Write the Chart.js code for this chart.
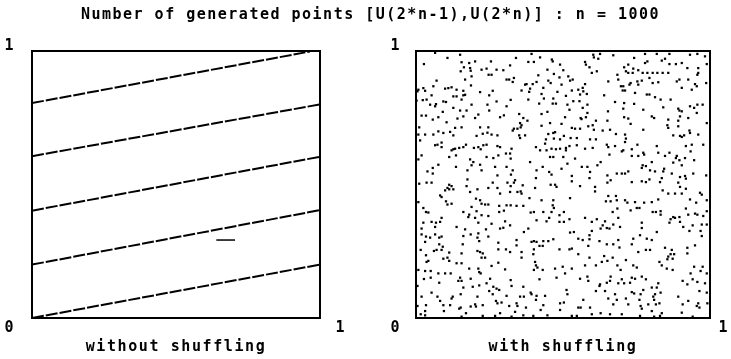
<!DOCTYPE html>
<html lang="en">
<head>
<meta charset="utf-8">
<title>Number of generated points</title>
<script src="https://cdn.jsdelivr.net/npm/chart.js@4/dist/chart.umd.min.js"></script>
<style>
  html, body { margin: 0; padding: 0; background: #fff; }
  #stage { position: relative; width: 731px; height: 359px; overflow: hidden; background: #fff; }
  #stage canvas { position: absolute; top: 0; }
  #heading { position: absolute; left: 5px; top: 5px; width: 731px; line-height: 16px; text-align: center;
             font: bold 15px "DejaVu Sans Mono", monospace; letter-spacing: 1.5px; color: #000; white-space: nowrap; }
</style>
</head>
<body>
<div id="stage">
  <canvas id="plainCanvas" width="366" height="359" style="left:0;width:366px;height:359px"></canvas>
  <canvas id="shuffledCanvas" width="365" height="359" style="left:366px;width:365px;height:359px"></canvas>
  <div id="heading"></div>
</div>
<script>
const chartTitle = 'Number of generated points [U(2*n-1),U(2*n)] : n = 1000';
const panelTitles = ['without shuffling', 'with shuffling'];
const axisTicks = ['0', '1'];

// Without shuffling the pairs fall on five parallel lanes (start at x = 0)
const laneStartY = [0.000, 0.200, 0.402, 0.606, 0.805];
const laneEndX   = [1.000, 1.000, 1.000, 1.000, 0.965];
const laneEndY   = [0.200, 0.404, 0.604, 0.800, 0.998];
// short isolated run of points between the two lowest lanes
const strayX = [0.640, 0.705];
const strayY = [0.292, 0.292];

// With shuffling: [U(2n-1), U(2n)] pairs
const shuffledPairs = [
  [0.065,0.993],[0.150,0.986],[0.107,0.974],[0.027,0.951],[0.155,0.958],[0.181,0.955],[0.201,0.961],[0.255,0.961],
  [0.184,0.936],[0.163,0.939],[0.152,0.924],[0.186,0.926],[0.223,0.930],[0.240,0.934],[0.274,0.930],[0.297,0.928],
  [0.320,0.946],[0.247,0.911],[0.257,0.911],[0.189,0.905],[0.167,0.893],[0.308,0.893],[0.317,0.893],[0.070,0.889],
  [0.187,0.871],[0.059,0.868],[0.121,0.864],[0.099,0.859],[0.110,0.861],[0.025,0.861],[0.138,0.855],[0.161,0.851],
  [0.261,0.851],[0.031,0.851],[0.008,0.855],[0.005,0.849],[0.218,0.846],[0.167,0.836],[0.161,0.834],[0.127,0.830],
  [0.138,0.830],[0.053,0.834],[0.249,0.834],[0.093,0.811],[0.102,0.809],[0.036,0.818],[0.023,0.816],[0.002,0.814],
  [0.155,0.818],[0.274,0.811],[0.065,0.793],[0.127,0.787],[0.308,0.793],[0.243,0.799],[0.189,0.799],[0.068,0.801],
  [0.048,0.799],[0.172,0.777],[0.150,0.777],[0.249,0.777],[0.091,0.772],[0.034,0.758],[0.019,0.758],[0.076,0.752],
  [0.286,0.752],[0.299,0.759],[0.212,0.762],[0.161,0.755],[0.201,0.749],[0.057,0.743],[0.141,0.747],[0.104,0.733],
  [0.218,0.714],[0.155,0.714],[0.133,0.712],[0.246,0.714],[0.076,0.699],[0.093,0.693],[0.011,0.714],[0.031,0.687],
  [0.059,0.687],[0.116,0.697],[0.127,0.684],[0.008,0.687],
  [0.393,0.989],[0.603,0.986],[0.605,0.976],[0.626,0.989],[0.340,0.974],[0.422,0.976],[0.462,0.968],[0.465,0.961],
  [0.382,0.959],[0.401,0.959],[0.620,0.971],[0.575,0.959],[0.490,0.949],[0.578,0.949],[0.590,0.939],[0.501,0.928],
  [0.447,0.930],[0.615,0.924],[0.598,0.918],[0.416,0.909],[0.469,0.914],[0.518,0.905],[0.488,0.901],[0.533,0.893],
  [0.524,0.889],[0.333,0.899],[0.329,0.884],[0.450,0.889],[0.458,0.880],[0.376,0.876],[0.371,0.874],[0.397,0.876],
  [0.410,0.884],[0.654,0.886],[0.575,0.876],[0.495,0.874],[0.359,0.852],[0.388,0.859],[0.385,0.847],[0.433,0.862],
  [0.481,0.847],[0.530,0.852],[0.552,0.855],[0.567,0.862],[0.569,0.849],[0.322,0.817],[0.427,0.839],[0.558,0.837],
  [0.581,0.839],[0.510,0.832],[0.640,0.834],[0.435,0.822],[0.467,0.822],[0.382,0.818],[0.535,0.812],[0.556,0.812],
  [0.465,0.803],[0.476,0.803],[0.419,0.803],[0.515,0.799],[0.522,0.780],[0.567,0.787],[0.583,0.799],[0.653,0.774],
  [0.351,0.764],[0.427,0.764],[0.583,0.768],[0.578,0.752],[0.560,0.749],[0.563,0.745],[0.507,0.752],[0.365,0.749],
  [0.379,0.739],[0.447,0.772],[0.612,0.739],[0.651,0.739],[0.601,0.722],[0.586,0.718],[0.354,0.730],[0.359,0.722],
  [0.356,0.714],[0.333,0.709],[0.329,0.702],[0.345,0.709],[0.427,0.720],[0.456,0.730],[0.495,0.727],[0.530,0.712],
  [0.541,0.709],[0.558,0.709],[0.635,0.702],[0.660,0.705],[0.605,0.705],[0.467,0.693],[0.473,0.696],[0.450,0.689],
  [0.351,0.684],[0.371,0.684],
  [0.671,0.984],[0.742,0.974],[0.779,0.989],[0.819,0.989],[0.862,0.989],[0.932,0.986],[0.957,0.989],[0.983,0.980],
  [0.722,0.949],[0.708,0.939],[0.739,0.934],[0.779,0.955],[0.787,0.961],[0.836,0.964],[0.847,0.971],[0.862,0.951],
  [0.884,0.951],[0.904,0.955],[0.923,0.936],[0.960,0.936],[0.989,0.951],[0.714,0.924],[0.722,0.918],[0.737,0.918],
  [0.756,0.928],[0.771,0.918],[0.787,0.918],[0.805,0.918],[0.821,0.918],[0.839,0.918],[0.858,0.918],[0.960,0.918],
  [0.957,0.911],[0.685,0.911],[0.688,0.893],[0.794,0.899],[0.753,0.886],[0.768,0.889],[0.805,0.880],[0.824,0.883],
  [0.896,0.893],[0.887,0.886],[0.926,0.893],[0.949,0.876],[0.955,0.868],[0.697,0.868],[0.705,0.868],[0.726,0.874],
  [0.730,0.880],[0.756,0.874],[0.987,0.880],[0.703,0.852],[0.711,0.852],[0.904,0.862],[0.938,0.855],[0.745,0.843],
  [0.785,0.837],[0.794,0.837],[0.813,0.827],[0.832,0.818],[0.866,0.818],[0.677,0.809],[0.708,0.805],[0.705,0.784],
  [0.742,0.802],[0.932,0.793],[0.957,0.799],[0.975,0.799],[0.946,0.787],[0.892,0.784],[0.896,0.777],[0.904,0.774],
  [0.773,0.780],[0.841,0.789],[0.708,0.752],[0.722,0.747],[0.802,0.755],[0.810,0.749],[0.898,0.755],[0.858,0.743],
  [0.892,0.739],[0.926,0.749],[0.955,0.768],[0.730,0.727],[0.773,0.705],[0.855,0.722],[0.858,0.712],[0.892,0.718],
  [0.930,0.702],[0.932,0.693],[0.960,0.687],[0.912,0.684],[0.875,0.684],[0.680,0.689],[0.711,0.687],[0.989,0.730],
  [0.206,0.682],[0.227,0.690],[0.243,0.694],[0.257,0.687],[0.277,0.684],[0.014,0.665],[0.065,0.647],[0.073,0.649],
  [0.087,0.657],[0.087,0.640],[0.127,0.632],[0.133,0.634],[0.121,0.628],[0.147,0.637],[0.161,0.640],[0.170,0.649],
  [0.197,0.637],[0.212,0.640],[0.220,0.632],[0.229,0.647],[0.240,0.649],[0.277,0.644],[0.286,0.640],[0.113,0.603],
  [0.136,0.609],[0.306,0.616],[0.320,0.616],[0.019,0.609],[0.008,0.594],[0.184,0.594],[0.195,0.584],[0.240,0.603],
  [0.263,0.599],[0.280,0.609],[0.218,0.574],[0.223,0.553],[0.189,0.572],[0.269,0.566],[0.308,0.566],[0.057,0.562],
  [0.057,0.541],[0.039,0.549],[0.076,0.574],[0.136,0.566],[0.175,0.553],[0.277,0.534],[0.036,0.507],[0.053,0.507],
  [0.011,0.503],[0.113,0.499],[0.121,0.494],[0.107,0.487],[0.113,0.482],[0.099,0.478],[0.127,0.482],[0.175,0.519],
  [0.261,0.507],[0.311,0.507],[0.322,0.494],[0.172,0.494],[0.184,0.472],[0.209,0.482],[0.246,0.487],[0.277,0.487],
  [0.286,0.466],[0.320,0.472],[0.008,0.434],[0.082,0.459],[0.087,0.453],[0.102,0.437],[0.107,0.425],[0.121,0.428],
  [0.025,0.412],[0.034,0.397],[0.042,0.395],[0.204,0.447],[0.218,0.441],[0.223,0.428],[0.235,0.425],[0.246,0.425],
  [0.283,0.420],[0.308,0.422],[0.161,0.397],[0.181,0.387],[0.189,0.416],[0.206,0.400],[0.283,0.397],[0.299,0.402],
  [0.025,0.357],[0.053,0.360],[0.068,0.357],[0.065,0.341],[0.087,0.375],[0.082,0.360],[0.138,0.341],[0.178,0.378],
  [0.201,0.375],[0.212,0.357],[0.223,0.385],[0.246,0.382],[0.257,0.353],[0.303,0.362],[0.320,0.347],[0.286,0.335],
  [0.019,0.335],
  [0.354,0.674],[0.503,0.682],[0.469,0.672],[0.442,0.669],[0.439,0.653],[0.490,0.669],[0.526,0.674],[0.547,0.674],
  [0.592,0.669],[0.612,0.669],[0.649,0.649],[0.654,0.640],[0.325,0.634],[0.408,0.640],[0.422,0.628],[0.444,0.628],
  [0.461,0.634],[0.476,0.632],[0.490,0.634],[0.510,0.637],[0.510,0.628],[0.522,0.644],[0.547,0.647],[0.575,0.634],
  [0.601,0.637],[0.658,0.612],[0.456,0.603],[0.467,0.603],[0.501,0.603],[0.541,0.597],[0.322,0.597],[0.388,0.584],
  [0.515,0.578],[0.431,0.566],[0.495,0.559],[0.564,0.566],[0.583,0.566],[0.617,0.572],[0.628,0.584],[0.329,0.553],
  [0.410,0.553],[0.453,0.547],[0.461,0.537],[0.592,0.547],[0.323,0.537],[0.408,0.524],[0.530,0.532],[0.530,0.512],
  [0.651,0.534],[0.337,0.516],[0.333,0.507],[0.590,0.524],[0.458,0.499],[0.473,0.499],[0.478,0.491],[0.558,0.494],
  [0.609,0.491],[0.651,0.507],[0.363,0.497],[0.345,0.472],[0.356,0.474],[0.359,0.466],[0.405,0.487],[0.386,0.449],
  [0.427,0.441],[0.467,0.441],[0.524,0.449],[0.609,0.474],[0.654,0.457],[0.646,0.437],[0.322,0.422],[0.342,0.420],
  [0.365,0.420],[0.465,0.422],[0.469,0.412],[0.401,0.397],[0.390,0.395],[0.433,0.397],[0.461,0.397],[0.488,0.385],
  [0.503,0.397],[0.410,0.366],[0.444,0.362],[0.453,0.375],[0.488,0.360],[0.503,0.360],[0.522,0.370],[0.575,0.375],
  [0.598,0.360],[0.615,0.370],[0.643,0.362],[0.635,0.347],[0.628,0.335],[0.649,0.337],[0.382,0.335],
  [0.714,0.672],[0.711,0.659],[0.898,0.682],[0.904,0.678],[0.677,0.644],[0.705,0.628],[0.700,0.624],[0.734,0.632],
  [0.753,0.649],[0.819,0.644],[0.918,0.644],[0.938,0.649],[0.977,0.649],[0.934,0.624],[0.734,0.607],[0.756,0.607],
  [0.773,0.619],[0.776,0.612],[0.824,0.619],[0.847,0.607],[0.862,0.619],[0.887,0.607],[0.884,0.599],[0.896,0.591],
  [0.915,0.599],[0.946,0.591],[0.875,0.582],[0.904,0.572],[0.802,0.584],[0.771,0.572],[0.768,0.562],[0.782,0.569],
  [0.683,0.541],[0.700,0.541],[0.711,0.541],[0.722,0.549],[0.813,0.549],[0.796,0.553],[0.844,0.559],[0.841,0.549],
  [0.870,0.541],[0.898,0.528],[0.915,0.532],[0.918,0.522],[0.943,0.541],[0.987,0.534],[0.662,0.516],[0.734,0.509],
  [0.768,0.512],[0.782,0.509],[0.794,0.519],[0.830,0.509],[0.836,0.524],[0.892,0.507],[0.898,0.491],[0.918,0.484],
  [0.839,0.478],[0.858,0.466],[0.881,0.466],[0.904,0.466],[0.966,0.469],[0.972,0.462],[0.680,0.457],[0.683,0.441],
  [0.662,0.437],[0.711,0.441],[0.719,0.432],[0.745,0.434],[0.776,0.432],[0.802,0.434],[0.824,0.444],[0.932,0.444],
  [0.953,0.432],[0.989,0.441],[0.685,0.410],[0.669,0.397],[0.730,0.403],[0.751,0.412],[0.760,0.412],[0.805,0.397],
  [0.816,0.397],[0.832,0.400],[0.832,0.387],[0.875,0.378],[0.881,0.375],[0.866,0.370],[0.896,0.378],[0.918,0.410],
  [0.926,0.387],[0.949,0.391],[0.957,0.387],[0.977,0.382],[0.989,0.400],[0.688,0.375],[0.671,0.350],[0.694,0.341],
  [0.768,0.357],[0.768,0.337],[0.862,0.357],[0.898,0.360],[0.909,0.341],[0.941,0.347],[0.972,0.350],[0.989,0.350],
  [0.167,0.332],[0.238,0.332],[0.297,0.338],[0.019,0.313],[0.034,0.305],[0.048,0.301],[0.065,0.313],[0.079,0.301],
  [0.087,0.305],[0.161,0.307],[0.186,0.313],[0.212,0.317],[0.209,0.301],[0.215,0.288],[0.246,0.305],[0.031,0.285],
  [0.079,0.276],[0.091,0.267],[0.087,0.255],[0.070,0.255],[0.061,0.251],[0.113,0.245],[0.159,0.276],[0.280,0.282],
  [0.016,0.255],[0.209,0.251],[0.218,0.247],[0.227,0.242],[0.280,0.257],[0.306,0.257],[0.320,0.247],[0.034,0.235],
  [0.155,0.242],[0.042,0.214],[0.036,0.210],[0.093,0.222],[0.107,0.226],[0.113,0.214],[0.138,0.205],[0.155,0.205],
  [0.223,0.226],[0.235,0.226],[0.280,0.207],[0.008,0.180],[0.031,0.176],[0.050,0.176],[0.076,0.167],[0.099,0.167],
  [0.118,0.167],[0.181,0.185],[0.212,0.185],[0.215,0.172],[0.220,0.167],[0.257,0.195],[0.303,0.182],[0.027,0.146],
  [0.050,0.151],[0.150,0.151],[0.155,0.139],[0.144,0.139],[0.186,0.147],[0.252,0.147],[0.005,0.120],[0.079,0.132],
  [0.161,0.114],[0.193,0.117],[0.215,0.122],[0.240,0.130],[0.263,0.117],[0.274,0.110],[0.283,0.105],[0.322,0.142],
  [0.019,0.080],[0.053,0.095],[0.073,0.080],[0.082,0.064],[0.121,0.073],[0.125,0.080],[0.152,0.089],[0.209,0.080],
  [0.249,0.101],[0.261,0.089],[0.308,0.083],[0.005,0.045],[0.034,0.048],[0.093,0.048],[0.116,0.048],[0.147,0.035],
  [0.152,0.039],[0.186,0.043],[0.201,0.051],[0.204,0.043],[0.227,0.048],[0.277,0.055],[0.272,0.064],[0.291,0.058],
  [0.317,0.045],[0.031,0.026],[0.016,0.014],[0.095,0.026],[0.170,0.018],[0.286,0.018],[0.269,0.008],[0.227,0.008],
  [0.155,0.005],[0.031,0.010],
  [0.367,0.322],[0.524,0.320],[0.537,0.322],[0.598,0.326],[0.658,0.335],[0.342,0.292],[0.342,0.272],[0.393,0.285],
  [0.401,0.288],[0.410,0.285],[0.433,0.288],[0.450,0.288],[0.467,0.295],[0.552,0.297],[0.567,0.292],[0.590,0.310],
  [0.590,0.295],[0.624,0.288],[0.420,0.270],[0.431,0.270],[0.488,0.257],[0.522,0.257],[0.530,0.260],[0.586,0.270],
  [0.649,0.276],[0.359,0.247],[0.359,0.226],[0.401,0.257],[0.399,0.239],[0.552,0.239],[0.590,0.226],[0.640,0.232],
  [0.405,0.210],[0.408,0.197],[0.413,0.189],[0.401,0.180],[0.431,0.180],[0.473,0.185],[0.499,0.192],[0.530,0.185],
  [0.575,0.197],[0.612,0.197],[0.632,0.210],[0.651,0.214],[0.507,0.167],[0.478,0.151],[0.558,0.147],[0.583,0.155],
  [0.586,0.139],[0.626,0.126],[0.624,0.120],[0.649,0.132],[0.660,0.139],[0.325,0.120],[0.365,0.117],[0.420,0.145],
  [0.390,0.095],[0.393,0.089],[0.354,0.080],[0.367,0.080],[0.410,0.083],[0.439,0.083],[0.408,0.068],[0.512,0.105],
  [0.515,0.089],[0.490,0.055],[0.503,0.058],[0.612,0.101],[0.643,0.101],[0.569,0.068],[0.654,0.073],[0.342,0.055],
  [0.345,0.045],[0.374,0.039],[0.433,0.048],[0.325,0.005],[0.337,0.023],[0.365,0.010],[0.399,0.008],[0.424,0.030],
  [0.447,0.010],[0.490,0.030],[0.530,0.008],[0.547,0.008],[0.552,0.039],[0.560,0.039],[0.592,0.039],[0.598,0.014],
  [0.628,0.018],[0.660,0.014],
  [0.819,0.322],[0.930,0.326],[0.968,0.326],[0.972,0.307],[0.688,0.292],[0.739,0.297],[0.785,0.297],[0.802,0.292],
  [0.762,0.310],[0.671,0.276],[0.692,0.264],[0.734,0.276],[0.756,0.247],[0.782,0.255],[0.796,0.255],[0.847,0.263],
  [0.870,0.255],[0.866,0.239],[0.858,0.230],[0.878,0.239],[0.923,0.263],[0.923,0.242],[0.949,0.272],[0.669,0.226],
  [0.714,0.217],[0.828,0.210],[0.855,0.220],[0.873,0.222],[0.685,0.197],[0.739,0.197],[0.751,0.189],[0.836,0.197],
  [0.853,0.185],[0.873,0.180],[0.946,0.192],[0.975,0.192],[0.968,0.176],[0.989,0.167],[0.696,0.180],[0.934,0.167],
  [0.941,0.145],[0.662,0.155],[0.700,0.145],[0.734,0.151],[0.745,0.147],[0.768,0.155],[0.782,0.145],[0.824,0.130],
  [0.907,0.139],[0.923,0.126],[0.957,0.135],[0.983,0.130],[0.688,0.130],[0.728,0.132],[0.708,0.130],[0.802,0.114],
  [0.819,0.114],[0.773,0.105],[0.832,0.095],[0.734,0.097],[0.742,0.092],[0.764,0.089],[0.813,0.089],[0.677,0.089],
  [0.714,0.073],[0.683,0.068],[0.760,0.068],[0.807,0.080],[0.810,0.068],[0.892,0.080],[0.926,0.064],[0.964,0.101],
  [0.989,0.095],[0.671,0.051],[0.722,0.051],[0.764,0.045],[0.768,0.035],[0.790,0.051],[0.816,0.051],[0.828,0.055],
  [0.802,0.026],[0.907,0.051],[0.955,0.045],[0.960,0.055],[0.964,0.039],[0.991,0.055],[0.700,0.014],[0.762,0.008],
  [0.830,0.008],[0.836,0.018],[0.904,0.020],[0.810,0.005],[0.941,0.005]
];

const FONT_FAMILY = '"DejaVu Sans Mono", monospace';
document.getElementById('heading').textContent = chartTitle;

// Square frame around each panel plus the 0 / 1 corner labels
const framePlugin = {
  id: 'frame',
  beforeDraw(chart) { chart.ctx.letterSpacing = '1.6px'; },
  afterDraw(chart, args, opts) {
    const { ctx, chartArea: a, scales: { x, y } } = chart;
    ctx.save();
    ctx.letterSpacing = '0px';
    ctx.strokeStyle = '#000';
    ctx.lineWidth = 2;
    ctx.strokeRect(a.left, a.top, a.right - a.left, a.bottom - a.top);
    ctx.fillStyle = '#000';
    ctx.font = 'bold 15px ' + FONT_FAMILY;
    ctx.textAlign = 'center';
    ctx.textBaseline = 'middle';
    const x0 = x.getPixelForValue(0), x1 = x.getPixelForValue(1);
    const y0 = y.getPixelForValue(0), y1 = y.getPixelForValue(1);
    ctx.fillText(axisTicks[1], x0 + opts.startShift, y1 - 5);
    ctx.fillText(axisTicks[0], x0 + opts.startShift, y0 + 10);
    ctx.fillText(axisTicks[1], x1 + opts.endShift, y0 + 10);
    ctx.restore();
  }
};

function panelOptions(caption, padding, shifts) {
  return {
    responsive: false,
    animation: false,
    events: [],
    layout: { padding },
    plugins: { legend: { display: false }, tooltip: { enabled: false }, frame: shifts },
    scales: {
      x: {
        type: 'linear', min: 0, max: 1, display: true,
        grid: { display: false, drawTicks: false },
        border: { display: false },
        ticks: { display: false },
        title: {
          display: true, text: caption, color: '#000',
          font: { family: FONT_FAMILY, size: 15, weight: 'bold' },
          padding: { top: 20, bottom: 0 }
        }
      },
      y: { type: 'linear', min: 0, max: 1, display: false }
    }
  };
}

const laneSets = laneStartY.map((y0, i) => ({
  data: [{ x: 0, y: y0 }, { x: laneEndX[i], y: laneEndY[i] }],
  showLine: true,
  borderColor: '#000',
  borderWidth: 2,
  borderDash: [12, 2],
  pointRadius: 0
}));
laneSets.push({
  data: strayX.map((x, i) => ({ x, y: strayY[i] })),
  showLine: true,
  borderColor: '#000',
  borderWidth: 1.5,
  pointRadius: 0
});

new Chart(document.getElementById('plainCanvas'), {
  type: 'scatter',
  data: { datasets: laneSets },
  options: panelOptions(panelTitles[0], { top: 51, left: 32, right: 46, bottom: 3 }, { startShift: -23, endShift: 20 }),
  plugins: [framePlugin]
});

new Chart(document.getElementById('shuffledCanvas'), {
  type: 'scatter',
  data: {
    datasets: [{
      data: shuffledPairs.map(([x, y]) => ({ x, y })),
      pointStyle: 'rect',
      pointRadius: 1.6,
      backgroundColor: '#000',
      borderWidth: 0
    }]
  },
  options: panelOptions(panelTitles[1], { top: 51, left: 50, right: 21, bottom: 3 }, { startShift: -21, endShift: 13 }),
  plugins: [framePlugin]
});
</script>
</body>
</html>
